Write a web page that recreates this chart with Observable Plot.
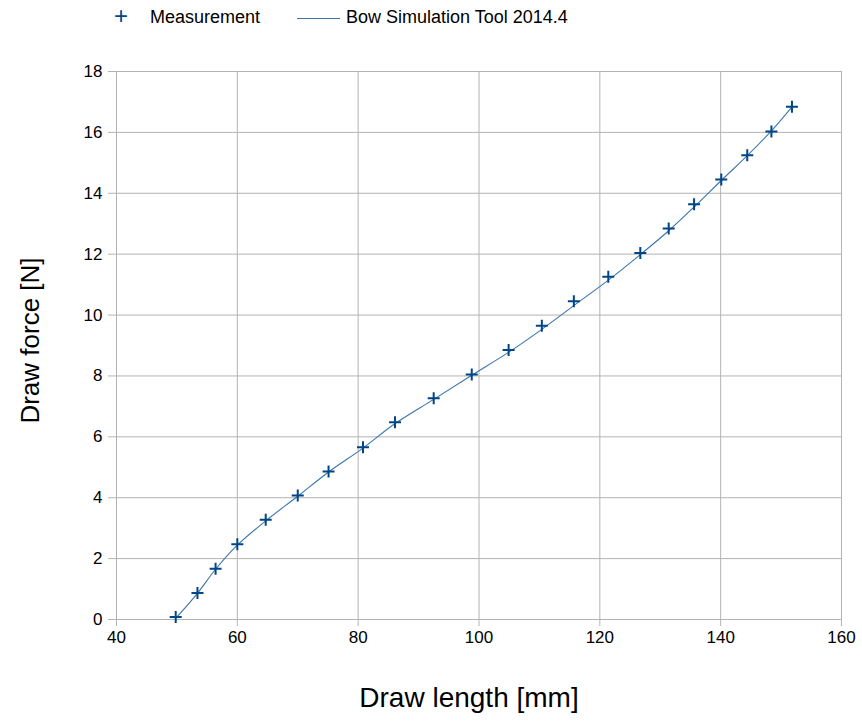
<!DOCTYPE html>
<html>
<head>
<meta charset="utf-8">
<script src="https://cdn.jsdelivr.net/npm/d3@7"></script>
<script src="https://cdn.jsdelivr.net/npm/@observablehq/plot@0.6"></script>
<style>
  html, body { margin: 0; padding: 0; background: #fff; }
  body { width: 862px; font-family: "Liberation Sans", Arial, sans-serif; }
  #legend { position: relative; height: 40px; font-size: 18px; color: #000; }
  #legend span { position: absolute; top: 7px; line-height: 20px; }
  #legend .plus { left: 114px; top: 6px; font-size: 24px; color: #004586; }
  #legend .ln { position: absolute; left: 297px; top: 18px; width: 43px; height: 0; border-top: 1px solid #3b75ad; }
</style>
</head>
<body>
<div id="legend">
  <span class="plus">+</span>
  <span style="left:150px">Measurement</span>
  <div class="ln"></div>
  <span style="left:346px">Bow Simulation Tool 2014.4</span>
</div>
<div id="chart"></div>
<script>
const measLength = [49.8, 53.4, 56.4, 60.0, 64.7, 70.0, 75.1, 80.8, 86.1, 92.5, 98.8, 104.9, 110.4, 115.7, 121.4, 126.7, 131.4, 135.6, 140.1, 144.4, 148.4, 151.8];
const measForce  = [0.08, 0.87, 1.67, 2.47, 3.28, 4.07, 4.86, 5.66, 6.48, 7.27, 8.05, 8.85, 9.65, 10.45, 11.26, 12.04, 12.84, 13.64, 14.45, 15.25, 16.03, 16.84];
const simLength  = [49.8, 53.4, 56.4, 60.0, 64.7, 70.0, 75.0, 80.8, 86.0, 92.5, 98.8, 105.0, 110.4, 115.7, 121.3, 126.6, 131.4, 135.6, 140.1, 144.4, 148.4, 151.8];
const simForce   = [0.04, 0.86, 1.65, 2.44, 3.24, 4.05, 4.83, 5.63, 6.42, 7.23, 8.02, 8.79, 9.53, 10.31, 11.13, 11.97, 12.77, 13.55, 14.42, 15.24, 16.05, 16.84];
const xTicks = [40, 60, 80, 100, 120, 140, 160];
const yTicks = [0, 2, 4, 6, 8, 10, 12, 14, 16, 18];

const meas = measLength.map((x, i) => ({x, y: measForce[i]}));
const sim = simLength.map((x, i) => ({x, y: simForce[i]}));

const plusSymbol = {
  draw(ctx, size) {
    const r = Math.sqrt(size / Math.PI);
    ctx.moveTo(-r, 0); ctx.lineTo(r, 0);
    ctx.moveTo(0, -r); ctx.lineTo(0, r);
  }
};

const chart = Plot.plot({
  width: 862,
  height: 683,
  marginTop: 31,
  marginBottom: 104,
  marginLeft: 116,
  marginRight: 21,
  style: { fontFamily: "Liberation Sans, Arial, sans-serif", fontSize: "17px", color: "#000", background: "#fff" },
  x: { domain: [40, 160] },
  y: { domain: [0, 18] },
  marks: [
    Plot.gridX(xTicks, { stroke: "#b3b3b3", strokeOpacity: 1 }),
    Plot.gridY(yTicks, { stroke: "#b3b3b3", strokeOpacity: 1 }),
    Plot.axisX({ ticks: xTicks, label: null, tickSize: 7, tickPadding: 4, stroke: "#b3b3b3", fill: "#000", fontSize: 17 }),
    Plot.axisY({ ticks: yTicks, label: null, tickSize: 8, tickPadding: 6, stroke: "#b3b3b3", fill: "#000", fontSize: 17 }),
    Plot.line(sim, { x: "x", y: "y", stroke: "#3b75ad", strokeWidth: 1.1, curve: "catmull-rom" }),
    Plot.dot(meas, { x: "x", y: "y", symbol: plusSymbol, r: 6, stroke: "#004586", strokeWidth: 2, fill: "none" }),
    Plot.text(["Draw length [mm]"], { frameAnchor: "bottom", dx: -10, dy: 79, fontSize: 28, fill: "#000", lineAnchor: "middle" }),
    Plot.text(["Draw force [N]"], { frameAnchor: "left", dx: -86, dy: -5, rotate: -90, fontSize: 26, fill: "#000", textAnchor: "middle", lineAnchor: "middle" })
  ]
});
document.getElementById("chart").appendChild(chart);
</script>
</body>
</html>
